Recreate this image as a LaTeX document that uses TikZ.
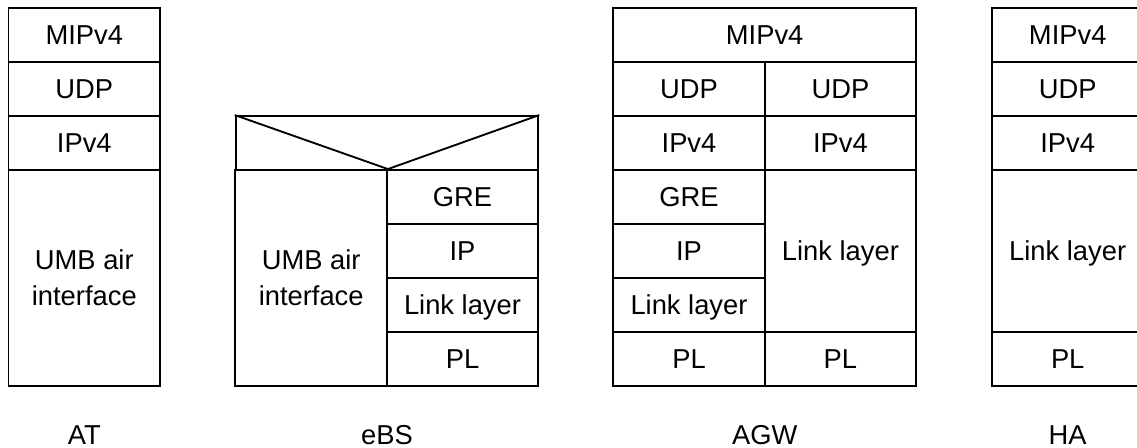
\documentclass[tikz,border=0pt]{standalone}
\usepackage{fontspec}
\setmainfont{Liberation Sans}
\begin{document}
\begin{tikzpicture}[x=0.75pt,y=-0.75pt,
  cell/.style={draw, line width=1.4pt, inner sep=0pt, align=center,
    font=\fontsize{20.5}{27}\selectfont},
  one/.style={text depth=0pt},
  ws/.style={minimum width=113.7pt},
  wf/.style={minimum width=227pt},
  h1/.style={minimum height=40.5pt},
  h3/.style={minimum height=121.5pt},
  h4/.style={minimum height=162pt},
  lbl/.style={font=\fontsize{20.5}{24}\selectfont, anchor=base}]
\useasboundingbox (0,0) rectangle (1137,448);
% AT
\node[cell,one,ws,h1] (atmip) at (84.3,35) {MIPv4};
\node[cell,one,ws,h1] (atudp) at (84.3,89) {UDP};
\node[cell,one,ws,h1] (atip) at (84.3,143) {IPv4};
\node[cell,ws,h4] (atumb) at (84.3,278) {UMB air\\interface};
% eBS
\node[cell,ws,h1,wf] (ebstop) at (387,143) {};
\node[cell,ws,h4] (ebsumb) at (311.2,278) {UMB air\\interface};
\node[cell,one,ws,h1] (ebsgre) at (462.5,197) {GRE};
\node[cell,one,ws,h1] (ebsip) at (462.5,251) {IP};
\node[cell,one,ws,h1] (ebsll) at (462.5,305) {Link layer};
\node[cell,one,ws,h1] (ebspl) at (462.5,359) {PL};
\draw[line width=1.4pt, line join=miter] (ebstop.north west) -- (ebsumb.north east) -- (ebstop.north east);
% AGW
\node[cell,one,wf,h1] (agwmip) at (764.7,35) {MIPv4};
\node[cell,one,ws,h1] (agwudpl) at (689,89) {UDP};
\node[cell,one,ws,h1] (agwipl) at (689,143) {IPv4};
\node[cell,one,ws,h1] (agwgre) at (689,197) {GRE};
\node[cell,one,ws,h1] (agwip) at (689,251) {IP};
\node[cell,one,ws,h1] (agwll) at (689,305) {Link layer};
\node[cell,one,ws,h1] (agwpll) at (689,359) {PL};
\node[cell,one,ws,h1] (agwudpr) at (840.4,89) {UDP};
\node[cell,one,ws,h1] (agwipr) at (840.4,143) {IPv4};
\node[cell,one,ws,h3] (agwllr) at (840.4,251) {Link layer};
\node[cell,one,ws,h1] (agwplr) at (840.4,359) {PL};
% HA
\node[cell,one,ws,h1] (hamip) at (1067.7,35) {MIPv4};
\node[cell,one,ws,h1] (haudp) at (1067.7,89) {UDP};
\node[cell,one,ws,h1] (haip) at (1067.7,143) {IPv4};
\node[cell,one,ws,h3] (hall) at (1067.7,251) {Link layer};
\node[cell,one,ws,h1] (hapl) at (1067.7,359) {PL};
% labels
\node[lbl] (lat) at (84.3,444) {AT};
\node[lbl] (lebs) at (387,444) {eBS};
\node[lbl] (lagw) at (764.7,444) {AGW};
\node[lbl] (lha) at (1067.7,444) {HA};
\end{tikzpicture}
\end{document}
